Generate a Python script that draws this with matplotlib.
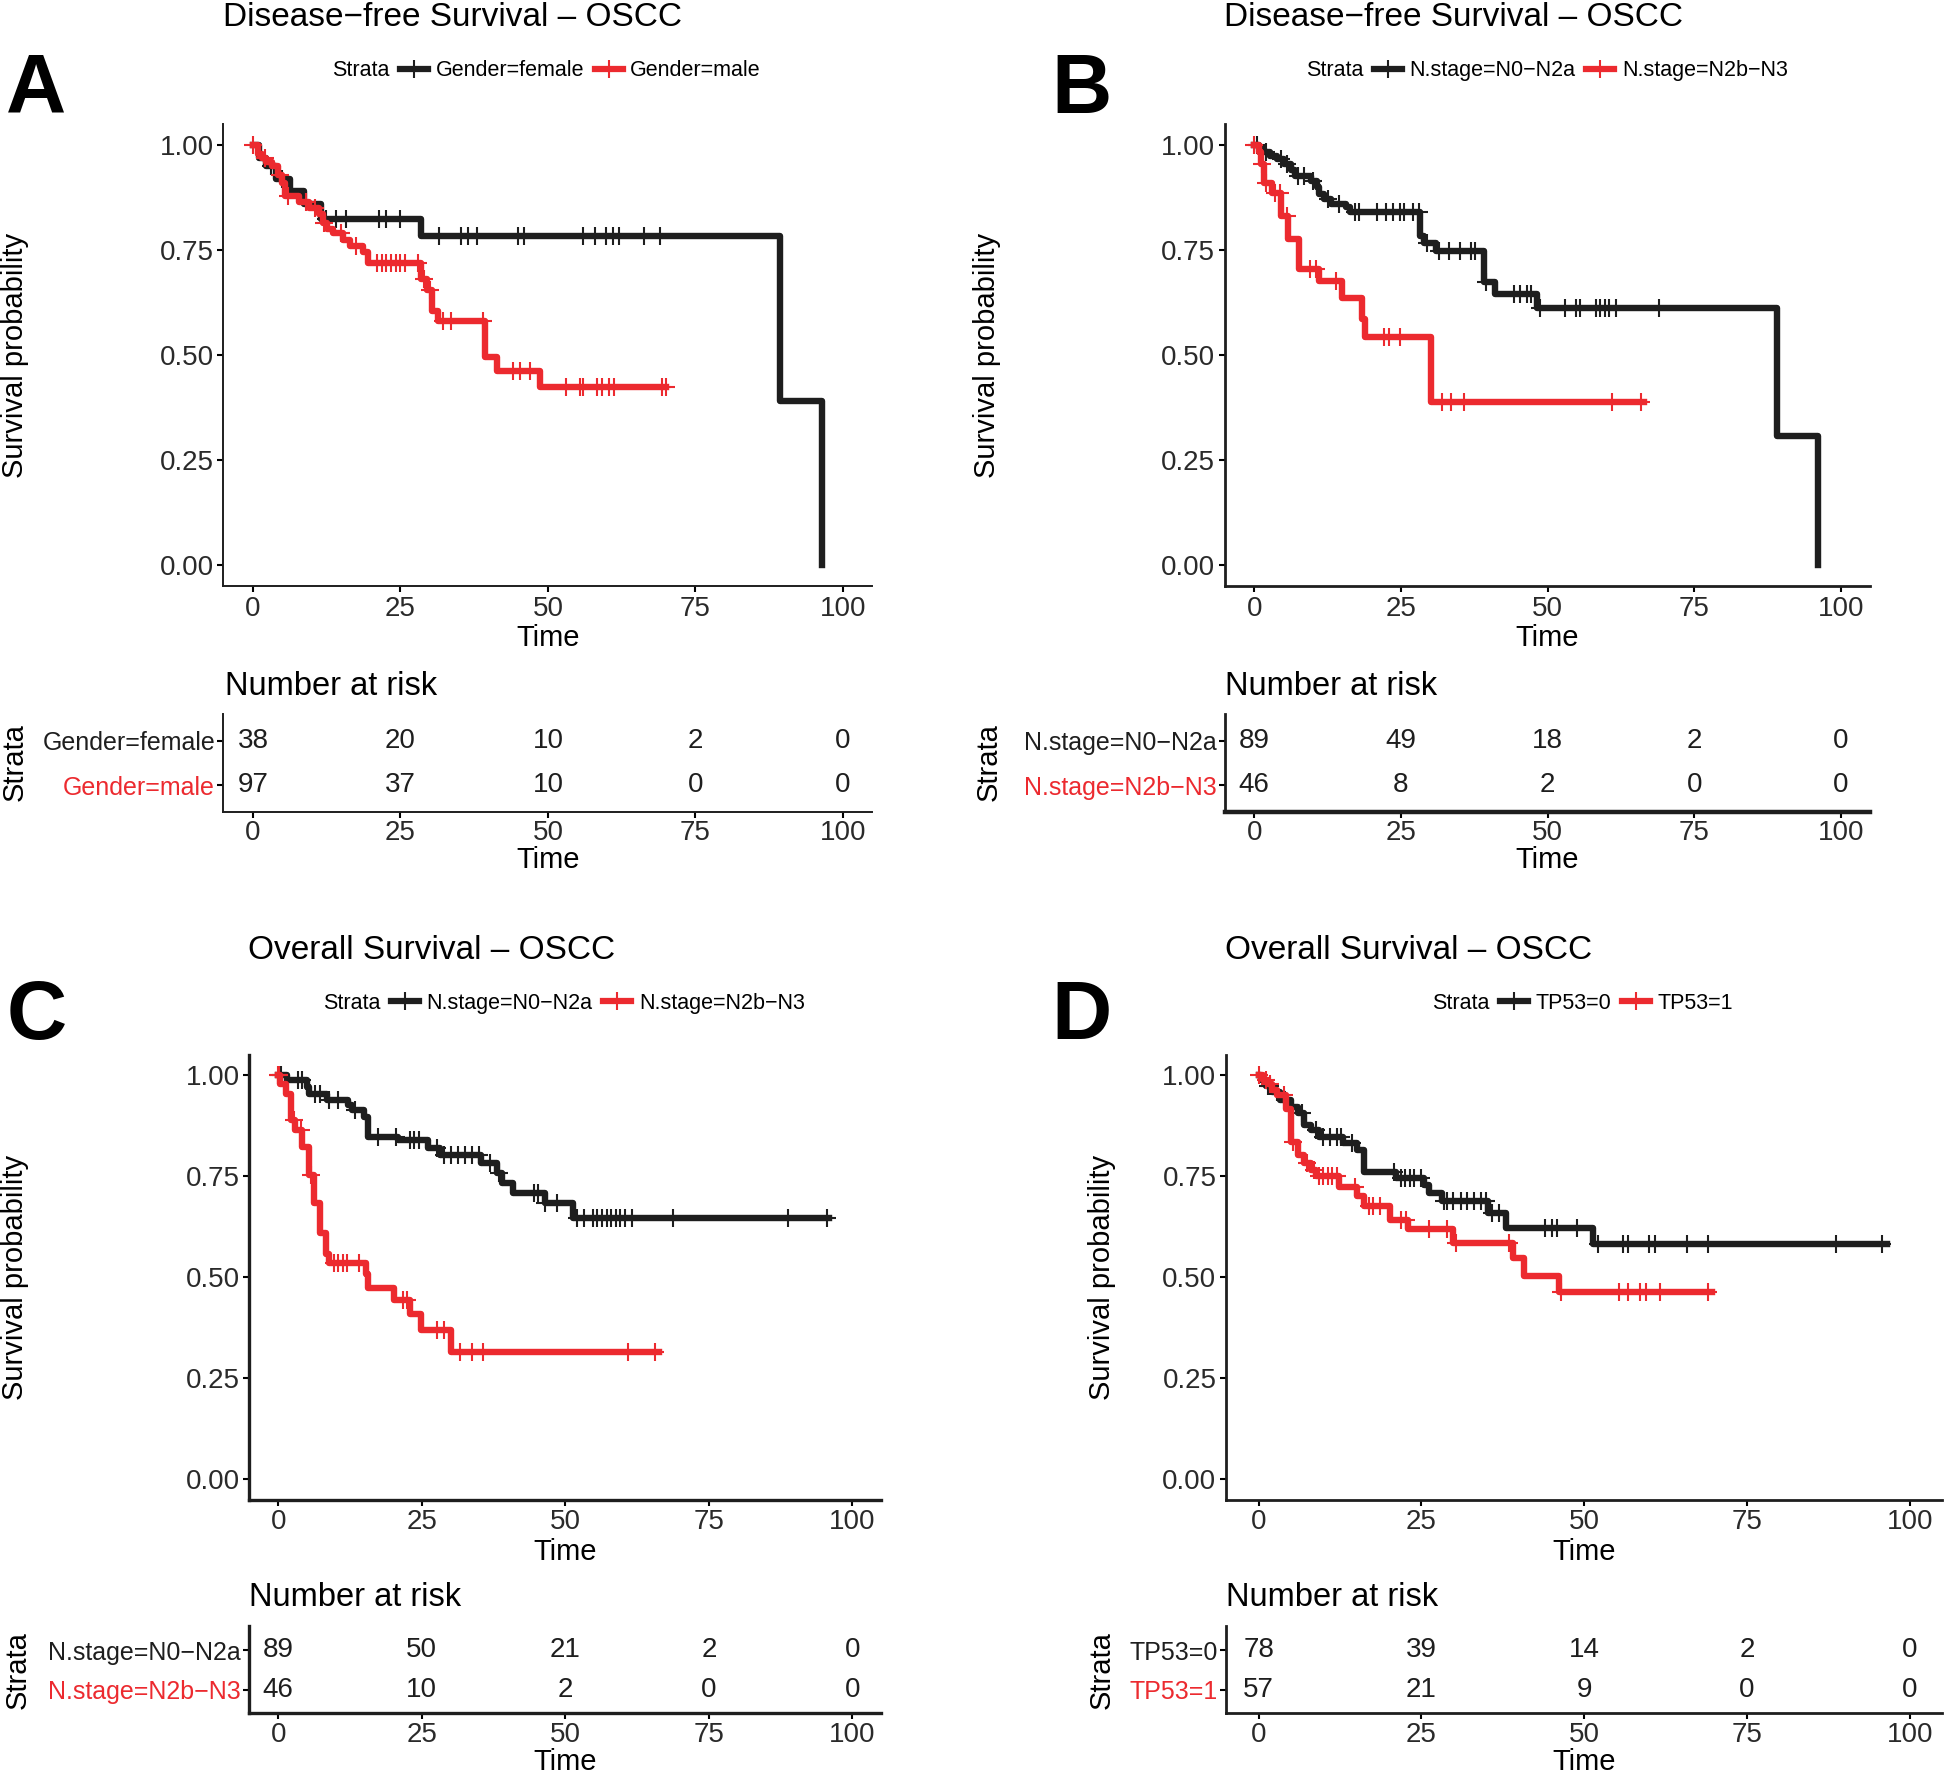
import matplotlib
matplotlib.use("Agg")
import matplotlib.pyplot as plt
from matplotlib.lines import Line2D

plt.rcParams['font.family'] = ['Liberation Sans', 'DejaVu Sans']

BLACK = '#1e1e1e'
RED = '#ec2a2f'
W, H = 1568, 1433  # layout grid (reference drawn at this size)

# ---- data: KM step times / survival after each step / censor times / end of follow-up
# Panel A: DFS by gender
A_f_t = [1.0, 2.3, 4.0, 6.3, 8.6, 11.6, 28.5, 89.4, 96.5]
A_f_s = [0.97, 0.95, 0.92, 0.89, 0.86, 0.824, 0.784, 0.391, 0.0]
A_f_c = [3.0, 5.0, 12.4, 14.0, 15.7, 21.4, 22.6, 25.0, 31.5, 35.2, 36.4, 37.9, 45.0, 46.0,
         56.0, 58.0, 59.8, 61.0, 62.0, 66.3, 69.0]
A_f_end = 96.5
A_m_t = [0.8, 1.6, 2.2, 3.2, 4.3, 5.0, 5.5, 7.8, 9.5, 11.2, 11.8, 12.5, 13.5, 15.3, 16.5,
         18.6, 19.5, 28.5, 29.5, 30.3, 31.3, 39.4, 41.3, 48.6]
A_m_s = [0.98, 0.97, 0.96, 0.95, 0.93, 0.91, 0.88, 0.865, 0.85, 0.835, 0.815, 0.80, 0.79,
         0.775, 0.76, 0.745, 0.72, 0.68, 0.655, 0.605, 0.58, 0.495, 0.463, 0.423]
A_m_c = [0.0, 2.0, 4.6, 6.0, 9.0, 10.5, 12.0, 15.0, 17.5, 21.0, 21.8, 22.6, 23.4, 24.2, 25.0,
         25.8, 28.0, 29.0, 30.0, 32.3, 33.5, 39.0, 44.1, 45.3, 47.0, 53.0, 55.5, 55.9, 58.3,
         59.1, 60.4, 61.2, 69.3, 70.0]
A_m_end = 70.0
A_labels = ['Gender=female', 'Gender=male']
A_risk = [[38, 20, 10, 2, 0], [97, 37, 10, 0, 0]]

# Panel B: DFS by N stage
B_0_t = [0.84, 1.6, 2.7, 3.9, 5.0, 6.2, 6.9, 9.6, 10.7, 11.1, 11.9, 13.0, 15.7, 16.4, 28.2,
         29.0, 30.9, 39.1, 41.1, 48.2, 89.1, 96.1]
B_0_s = [0.99, 0.983, 0.975, 0.967, 0.955, 0.94, 0.927, 0.915, 0.90, 0.883, 0.871, 0.86,
         0.852, 0.841, 0.784, 0.768, 0.748, 0.673, 0.645, 0.612, 0.308, 0.0]
B_0_c = [0.5, 2.0, 4.5, 5.5, 7.5, 8.5, 10.0, 12.5, 14.5, 17.2, 17.9, 21.0, 22.5, 23.7, 24.8,
         25.6, 27.1, 28.0, 29.5, 31.5, 33.2, 35.0, 37.0, 37.7, 39.5, 44.2, 45.3, 46.5, 47.2,
         48.7, 52.9, 54.8, 55.6, 58.3, 59.0, 59.8, 60.5, 61.7, 68.9]
B_0_end = 96.1
B_1_t = [0.84, 1.2, 1.6, 3.1, 4.6, 5.8, 7.7, 11.1, 14.9, 18.3, 18.9, 30.1]
B_1_s = [0.983, 0.955, 0.911, 0.887, 0.832, 0.776, 0.705, 0.677, 0.637, 0.586, 0.542, 0.387]
B_1_c = [0.0, 1.4, 2.0, 3.5, 4.4, 5.5, 9.5, 10.5, 14.0, 22.1, 22.9, 24.8, 32.0, 33.5, 35.8,
         60.9, 65.9]
B_1_end = 66.5
B_labels = ['N.stage=N0\u2212N2a', 'N.stage=N2b\u2212N3']
B_risk = [[89, 49, 18, 2, 0], [46, 8, 2, 0, 0]]

# Panel C: OS by N stage
C_0_t = [1.5, 5.0, 5.4, 8.5, 12.1, 12.9, 14.9, 15.7, 20.9, 26.1, 28.1, 35.3, 38.1, 38.9,
         40.9, 46.5, 51.3]
C_0_s = [0.989, 0.971, 0.955, 0.94, 0.926, 0.914, 0.898, 0.848, 0.840, 0.820, 0.803, 0.783,
         0.758, 0.734, 0.709, 0.684, 0.648]
C_0_c = [0.5, 3.4, 4.2, 6.5, 7.3, 8.9, 10.5, 13.3, 17.3, 20.5, 22.9, 23.7, 24.5, 27.7, 28.9,
         30.1, 31.3, 32.5, 33.7, 34.9, 36.9, 38.5, 44.5, 45.3, 46.5, 48.5, 52.0, 53.2, 54.8,
         55.6, 56.4, 57.2, 58.0, 58.8, 59.6, 60.4, 61.7, 68.8, 88.8, 95.6]
C_0_end = 96.0
C_1_t = [0.4, 1.4, 2.2, 3.0, 4.2, 5.4, 6.3, 7.3, 8.3, 8.9, 15.3, 15.7, 20.1, 22.9, 24.9, 30.1]
C_1_s = [0.980, 0.955, 0.889, 0.865, 0.824, 0.754, 0.684, 0.611, 0.557, 0.537, 0.508, 0.475,
         0.443, 0.410, 0.369, 0.316]
C_1_c = [0.0, 0.2, 2.8, 3.9, 5.8, 9.7, 10.5, 11.3, 11.9, 14.1, 21.7, 22.5, 27.7, 28.9, 31.7,
         33.7, 35.7, 60.9, 65.7]
C_1_end = 66.3
C_labels = ['N.stage=N0\u2212N2a', 'N.stage=N2b\u2212N3']
C_risk = [[89, 50, 21, 2, 0], [46, 10, 2, 0, 0]]

# Panel D: OS by TP53
D_0_t = [0.35, 1.1, 2.1, 3.2, 4.9, 6.0, 7.0, 8.1, 9.2, 13.0, 15.1, 16.2, 21.1, 25.4, 26.1,
         28.2, 35.2, 38.0, 51.4]
D_0_s = [0.988, 0.975, 0.959, 0.939, 0.922, 0.906, 0.877, 0.865, 0.848, 0.832, 0.816, 0.762,
         0.746, 0.730, 0.709, 0.689, 0.660, 0.623, 0.582]
D_0_c = [1.5, 1.8, 2.8, 6.7, 8.8, 9.9, 10.9, 12.0, 12.6, 14.4, 20.8, 21.8, 22.5, 23.2, 23.9,
         25.0, 28.5, 28.9, 29.9, 31.0, 32.0, 33.1, 34.2, 34.9, 35.9, 36.9, 44.0, 45.1, 45.8,
         48.9, 52.1, 56.0, 56.7, 59.9, 60.9, 65.8, 69.0, 88.7, 95.8]
D_0_end = 96.5
D_1_t = [0.7, 1.4, 2.1, 2.8, 4.2, 4.9, 6.0, 7.0, 8.1, 8.8, 12.3, 15.1, 16.2, 20.1, 22.9, 29.9,
         39.1, 40.8, 46.1]
D_1_s = [0.988, 0.980, 0.963, 0.951, 0.918, 0.836, 0.803, 0.783, 0.766, 0.750, 0.725, 0.701,
         0.676, 0.643, 0.619, 0.586, 0.549, 0.504, 0.463]
D_1_c = [0.0, 1.1, 1.8, 3.9, 5.3, 7.4, 8.5, 9.2, 9.9, 10.6, 11.3, 12.0, 14.8, 16.9, 17.6,
         18.7, 21.8, 22.6, 26.1, 28.9, 30.3, 38.4, 46.5, 55.3, 56.7, 58.5, 59.5, 61.6, 69.0]
D_1_end = 69.7
D_labels = ['TP53=0', 'TP53=1']
D_risk = [[78, 39, 14, 2, 0], [57, 21, 9, 0, 0]]

risk_times = [0, 25, 50, 75, 100]
x_ticks = [0, 25, 50, 75, 100]
y_ticks = [0.0, 0.25, 0.5, 0.75, 1.0]


def rect(l, r, t, b):
    return [l / W, 1 - b / H, (r - l) / W, (b - t) / H]


def fx(x):
    return x / W


def fy(y):
    return 1 - y / H


def surv_at(times, surv, c):
    s = 1.0
    for t, v in zip(times, surv):
        if t <= c:
            s = v
    return s


def km_xy(times, surv, end):
    x = [0.0] + list(times)
    y = [1.0] + list(surv)
    if end > x[-1]:
        x.append(end)
        y.append(y[-1])
    return x, y


fig = plt.figure(figsize=(19.46, 17.79), dpi=100)


def panel(letter, title, curves, labels, risk, main_box, risk_box, pos, spine_lw=1.6,
          risk_bottom_lw=None):
    # pos: dict of text positions on the layout grid
    ax = fig.add_axes(rect(*main_box))
    for times, surv, cens, end, col in curves:
        x, y = km_xy(times, surv, end)
        ax.plot(x, y, drawstyle='steps-post', color=col, lw=4.6)
        ax.plot(cens, [surv_at(times, surv, c) for c in cens], ls='none', marker='+',
                ms=13, mew=1.5, color=col)
    ax.set_xlim(-5, 105)
    ax.set_ylim(-0.05, 1.05)
    ax.set_xticks(x_ticks)
    ax.set_yticks(y_ticks)
    ax.set_yticklabels(['%.2f' % v for v in y_ticks])
    for s in ['top', 'right']:
        ax.spines[s].set_visible(False)
    for s in ['left', 'bottom']:
        ax.spines[s].set_linewidth(spine_lw)
        ax.spines[s].set_color(BLACK)
    ax.tick_params(length=4, width=1.5, labelsize=20, labelcolor='#2a2a2a', pad=3)
    ax.set_xlabel('Time', fontsize=21, labelpad=2)

    # legend
    dummy = Line2D([], [], alpha=0)
    hs = [Line2D([], [], color=c[4], lw=4.5, marker='+', ms=13, mew=1.5) for c in curves]
    ax.legend([dummy] + hs, ['Strata'] + labels, ncol=3, loc='center',
              bbox_to_anchor=(fx(pos['leg'][0] - 15), fy(pos['leg'][1])),
              bbox_transform=fig.transFigure, frameon=False, fontsize=15.5,
              handlelength=1.3, handletextpad=0.35, columnspacing=0.5)

    fig.text(fx(pos['title'][0]), fy(pos['title'][1]), title, fontsize=24,
             ha='left', va='center')
    fig.text(fx(pos['letter'][0]), fy(pos['letter'][1]), letter, fontsize=60,
             fontweight='bold', ha='left', va='center')
    fig.text(fx(pos['ylab'][0]), fy(pos['ylab'][1]), 'Survival probability', fontsize=21,
             rotation=90, ha='center', va='center')

    # risk table
    ar = fig.add_axes(rect(*risk_box))
    ar.set_xlim(-5, 105)
    ar.set_ylim(0.4, 2.6)
    rows = [2, 1]
    for row, vals in zip(rows, risk):
        for t, v in zip(risk_times, vals):
            ar.text(t, row, str(v), fontsize=20, ha='center', va='center', color=BLACK)
    ar.set_yticks(rows)
    ar.set_yticklabels(labels)
    for lab, c in zip(ar.get_yticklabels(), [BLACK, RED]):
        lab.set_color(c)
    ar.set_xticks(x_ticks)
    for s in ['top', 'right']:
        ar.spines[s].set_visible(False)
    for s in ['left', 'bottom']:
        ar.spines[s].set_linewidth(spine_lw)
        ar.spines[s].set_color(BLACK)
    if risk_bottom_lw:
        ar.spines['bottom'].set_linewidth(risk_bottom_lw)
    ar.tick_params(axis='x', length=4, width=1.5, labelsize=20, labelcolor='#2a2a2a', pad=2)
    ar.tick_params(axis='y', length=4, width=1.5, labelsize=18, pad=2)
    ar.set_xlabel('Time', fontsize=21, labelpad=0)
    fig.text(fx(pos['nar'][0]), fy(pos['nar'][1]), 'Number at risk', fontsize=23.5,
             ha='left', va='center')
    fig.text(fx(pos['strata'][0]), fy(pos['strata'][1]), 'Strata', fontsize=21,
             rotation=90, ha='center', va='center')


panel('A', 'Disease\u2212free Survival \u2013 OSCC',
      [(A_f_t, A_f_s, A_f_c, A_f_end, BLACK), (A_m_t, A_m_s, A_m_c, A_m_end, RED)],
      A_labels, A_risk, (180, 703, 100, 472), (180, 703, 575, 654),
      dict(title=(180, 14), leg=(441, 57), letter=(5, 73), ylab=(12, 286),
           nar=(181, 553), strata=(12, 614)), spine_lw=1.4)

panel('B', 'Disease\u2212free Survival \u2013 OSCC',
      [(B_0_t, B_0_s, B_0_c, B_0_end, BLACK), (B_1_t, B_1_s, B_1_c, B_1_end, RED)],
      B_labels, B_risk, (987, 1507, 100, 472), (987, 1507, 575, 654),
      dict(title=(986, 14), leg=(1247, 57), letter=(847, 73), ylab=(795, 286),
           nar=(987, 553), strata=(797, 614)), spine_lw=2.0, risk_bottom_lw=3.2)

panel('C', 'Overall Survival \u2013 OSCC',
      [(C_0_t, C_0_s, C_0_c, C_0_end, BLACK), (C_1_t, C_1_s, C_1_c, C_1_end, RED)],
      C_labels, C_risk, (201, 710, 850, 1208), (201, 710, 1310, 1380),
      dict(title=(200, 766), leg=(455, 808), letter=(5, 819), ylab=(12, 1029),
           nar=(201, 1287), strata=(14, 1345)), spine_lw=2.4)

panel('D', 'Overall Survival \u2013 OSCC',
      [(D_0_t, D_0_s, D_0_c, D_0_end, BLACK), (D_1_t, D_1_s, D_1_c, D_1_end, RED)],
      D_labels, D_risk, (988, 1565, 850, 1208), (988, 1565, 1310, 1380),
      dict(title=(987, 766), leg=(1276, 808), letter=(847, 819), ylab=(888, 1029),
           nar=(988, 1287), strata=(888, 1345)), spine_lw=2.0)

fig.savefig('out.png', dpi=100)
plt.close(fig)
